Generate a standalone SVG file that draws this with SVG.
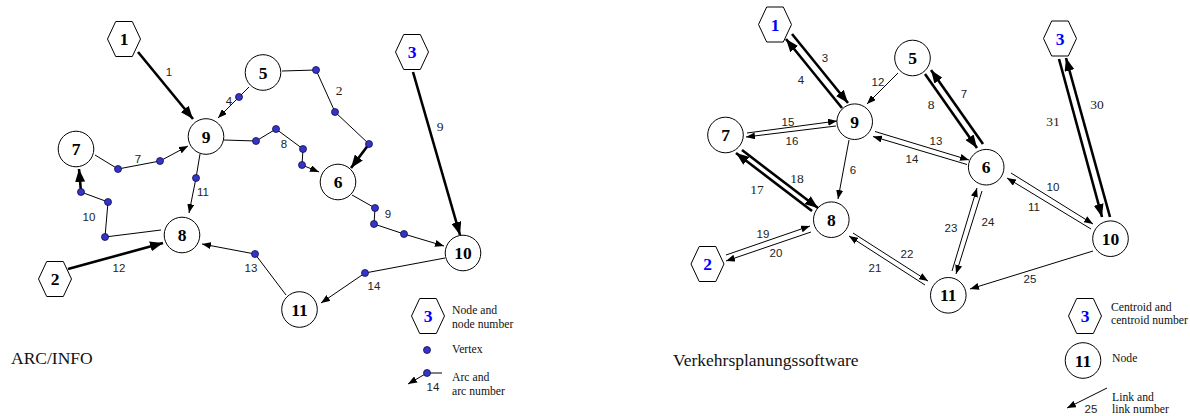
<svg xmlns="http://www.w3.org/2000/svg" width="1190" height="416" viewBox="0 0 1190 416">
<defs>
<style>
.nd{fill:#fff;stroke:#000;stroke-width:1}
.nt{font-family:"Liberation Serif",serif;font-weight:bold;font-size:17.5px;text-anchor:middle;fill:#000}
.bl{fill:#0000ff}
.ln{fill:none;stroke:#000;stroke-width:1}
.tk{fill:none;stroke:#000;stroke-width:2.6}
.lb{font-family:"Liberation Sans",Arial,sans-serif;font-size:11.5px;text-anchor:middle;fill:#222}
.ls{font-family:"Liberation Serif",serif;font-size:13.5px;text-anchor:middle;fill:#222}
.lg{font-family:"Liberation Serif",serif;font-size:11.7px;fill:#111}
.tt{font-family:"Liberation Serif",serif;font-size:17.5px;fill:#111}
.vx{fill:#3434cc;stroke:#101040;stroke-width:0.8}
</style>
<polygon id="hex" points="-16.5,0 -8.3,-17.5 8.3,-17.5 16.5,0 8.3,17.5 -8.3,17.5"/>
<marker id="ah" viewBox="0 0 9 7" refX="9" refY="3.5" markerWidth="9" markerHeight="7" markerUnits="userSpaceOnUse" orient="auto"><path d="M0,0 L9,3.5 L0,7 z" fill="#000"/></marker>
<marker id="ahb" viewBox="0 0 13 10" refX="13" refY="5" markerWidth="13" markerHeight="10" markerUnits="userSpaceOnUse" orient="auto"><path d="M0,0 L13,5 L0,10 z" fill="#000"/></marker>
</defs>
<rect width="1190" height="416" fill="#fff"/>

<!-- ARC/INFO network: arcs with vertices -->
<g id="arcs">
<line class="tk" x1="138" y1="52" x2="193" y2="119" marker-end="url(#ahb)"/>
<polyline class="ln" points="249,87 239,97 218,118" marker-end="url(#ah)"/>
<polyline class="ln" points="282,71 316,70 335,112 369,144"/>
<line class="tk" x1="369" y1="144" x2="351" y2="168" marker-end="url(#ahb)"/>
<polyline class="ln" points="224,140 256,141 276,129 303,149 302,165 319,172" marker-end="url(#ah)"/>
<polyline class="ln" points="95,155 118,169 160,161 188,146" marker-end="url(#ah)"/>
<polyline class="ln" points="200,154 196,178 189,213" marker-end="url(#ah)"/>
<polyline class="ln" points="161,230 105,237 108,202 81,192"/>
<line class="tk" x1="81" y1="192" x2="79" y2="169" marker-end="url(#ahb)"/>
<line class="tk" x1="68" y1="269" x2="163" y2="243" marker-end="url(#ahb)"/>
<polyline class="ln" points="286,295 255,254 202,244" marker-end="url(#ah)"/>
<line class="tk" x1="413" y1="72" x2="460" y2="235" marker-end="url(#ahb)"/>
<polyline class="ln" points="352,195 375,208 374,224 404,234 444,246" marker-end="url(#ah)"/>
<polyline class="ln" points="445,258 365,273 321,303" marker-end="url(#ah)"/>
<polyline class="ln" points="442,373 427,373 408,384" marker-end="url(#ah)"/>

<text class="lb" x="169" y="76">1</text>
<text class="lb" x="229" y="105">4</text>
<text class="ls" x="339" y="94.5">2</text>
<text class="lb" x="284" y="148">8</text>
<text class="lb" x="138" y="163">7</text>
<text class="lb" x="203" y="196">11</text>
<text class="lb" x="89" y="221">10</text>
<text class="lb" x="119" y="272">12</text>
<text class="lb" x="251" y="272">13</text>
<text class="ls" x="440" y="131">9</text>
<text class="lb" x="388" y="218">9</text>
<text class="lb" x="374" y="290">14</text>
<text class="lb" x="433" y="391">14</text>
</g>

<g id="vertices">
<circle class="vx" cx="239" cy="97" r="3.5"/>
<circle class="vx" cx="316" cy="70" r="3.5"/>
<circle class="vx" cx="335" cy="112" r="3.5"/>
<circle class="vx" cx="369" cy="144" r="3.5"/>
<circle class="vx" cx="256" cy="141" r="3.5"/>
<circle class="vx" cx="276" cy="129" r="3.5"/>
<circle class="vx" cx="303" cy="149" r="3.5"/>
<circle class="vx" cx="302" cy="165" r="3.5"/>
<circle class="vx" cx="118" cy="169" r="3.5"/>
<circle class="vx" cx="160" cy="161" r="3.5"/>
<circle class="vx" cx="196" cy="178" r="3.5"/>
<circle class="vx" cx="105" cy="237" r="3.5"/>
<circle class="vx" cx="108" cy="202" r="3.5"/>
<circle class="vx" cx="81" cy="192" r="3.5"/>
<circle class="vx" cx="255" cy="254" r="3.5"/>
<circle class="vx" cx="375" cy="208" r="3.5"/>
<circle class="vx" cx="374" cy="224" r="3.5"/>
<circle class="vx" cx="404" cy="234" r="3.5"/>
<circle class="vx" cx="365" cy="273" r="3.5"/>
<circle class="vx" cx="427" cy="350" r="3.5"/>
<circle class="vx" cx="427" cy="373" r="3.5"/>
</g>

<g id="a-hex-1"><use href="#hex" class="nd" x="124" y="39"/><text class="nt" x="124" y="45">1</text></g>
<g id="a-hex-2"><use href="#hex" class="nd" x="55" y="279"/><text class="nt" x="55" y="285">2</text></g>
<g id="a-hex-3"><use href="#hex" class="nd" x="412" y="52"/><text class="nt bl" x="412" y="58">3</text></g>
<g id="a-node-5"><circle class="nd" cx="263" cy="72.5" r="17.8"/><text class="nt" x="263" y="78.5">5</text></g>
<g id="a-node-9"><circle class="nd" cx="206" cy="136.5" r="17.8"/><text class="nt" x="206" y="142.5">9</text></g>
<g id="a-node-7"><circle class="nd" cx="76" cy="149" r="17.8"/><text class="nt" x="76" y="155">7</text></g>
<g id="a-node-6"><circle class="nd" cx="338" cy="182" r="17.8"/><text class="nt" x="338" y="188">6</text></g>
<g id="a-node-8"><circle class="nd" cx="182" cy="235" r="17.8"/><text class="nt" x="182" y="241">8</text></g>
<g id="a-node-10"><circle class="nd" cx="463" cy="253" r="17.8"/><text class="nt" x="463" y="259">10</text></g>
<g id="a-node-11"><circle class="nd" cx="299.5" cy="309.5" r="17.8"/><text class="nt" x="299.5" y="315.5">11</text></g>

<g id="a-legend">
<use href="#hex" class="nd" x="428" y="316"/><text class="nt bl" x="428" y="322">3</text>
<text class="lg" x="452" y="314">Node and</text>
<text class="lg" x="452" y="328">node number</text>
<text class="lg" x="452" y="352.5">Vertex</text>
<text class="lg" x="452" y="381">Arc and</text>
<text class="lg" x="452" y="394.5">arc number</text>
</g>
<text id="title-arcinfo" class="tt" x="11" y="364">ARC/INFO</text>

<!-- Traffic planning network: directed links -->
<g id="links">
<line class="tk" x1="792" y1="34" x2="848" y2="103" marker-end="url(#ahb)"/>
<line class="tk" x1="842" y1="108" x2="786" y2="39" marker-end="url(#ahb)"/>
<line class="ln" x1="898" y1="73" x2="867" y2="104" marker-end="url(#ah)"/>
<line class="ln" x1="747" y1="133" x2="837" y2="121" marker-end="url(#ah)"/>
<line class="ln" x1="836" y1="126" x2="746" y2="137" marker-end="url(#ah)"/>
<line class="ln" x1="849" y1="140" x2="838" y2="199" marker-end="url(#ah)"/>
<line class="tk" x1="742" y1="150" x2="818" y2="208" marker-end="url(#ahb)"/>
<line class="tk" x1="812" y1="211" x2="736" y2="153" marker-end="url(#ahb)"/>
<line class="ln" x1="726" y1="255" x2="810" y2="226" marker-end="url(#ah)"/>
<line class="ln" x1="811" y1="232" x2="726" y2="261" marker-end="url(#ah)"/>
<line class="ln" x1="853" y1="233" x2="928" y2="281" marker-end="url(#ah)"/>
<line class="ln" x1="925" y1="285" x2="849" y2="236" marker-end="url(#ah)"/>
<line class="ln" x1="875" y1="131.5" x2="969" y2="160" marker-end="url(#ah)"/>
<line class="ln" x1="967" y1="164.5" x2="873" y2="136.5" marker-end="url(#ah)"/>
<line class="tk" x1="925" y1="74" x2="977" y2="148" marker-end="url(#ahb)"/>
<line class="tk" x1="983" y1="144" x2="931" y2="70" marker-end="url(#ahb)"/>
<line class="ln" x1="1011" y1="173" x2="1093" y2="224" marker-end="url(#ah)"/>
<line class="ln" x1="1091" y1="229" x2="1007" y2="178" marker-end="url(#ah)"/>
<line class="tk" x1="1059" y1="59" x2="1102" y2="217" marker-end="url(#ahb)"/>
<line class="tk" x1="1110" y1="217" x2="1066" y2="58" marker-end="url(#ahb)"/>
<line class="ln" x1="952" y1="271" x2="977" y2="188" marker-end="url(#ah)"/>
<line class="ln" x1="982" y1="191" x2="956" y2="274" marker-end="url(#ah)"/>
<line class="ln" x1="1093" y1="251" x2="970" y2="289" marker-end="url(#ah)"/>
<line class="ln" x1="1107" y1="388" x2="1067" y2="408" marker-end="url(#ah)"/>

<text class="lb" x="825" y="62">3</text>
<text class="lb" x="801" y="84">4</text>
<text class="lb" x="878" y="86">12</text>
<text class="lb" x="788" y="126">15</text>
<text class="lb" x="792" y="145">16</text>
<text class="lb" x="853" y="174">6</text>
<text class="ls" x="797" y="182.5">18</text>
<text class="ls" x="757" y="194">17</text>
<text class="lb" x="763" y="238">19</text>
<text class="lb" x="776" y="257">20</text>
<text class="lb" x="907" y="258">22</text>
<text class="lb" x="875" y="272">21</text>
<text class="lb" x="936" y="145">13</text>
<text class="lb" x="912" y="163">14</text>
<text class="ls" x="931" y="108.5">8</text>
<text class="lb" x="964" y="98">7</text>
<text class="lb" x="1053" y="191">10</text>
<text class="lb" x="1034" y="211">11</text>
<text class="ls" x="1053" y="125.5">31</text>
<text class="ls" x="1097" y="109">30</text>
<text class="lb" x="951" y="232">23</text>
<text class="lb" x="988" y="226">24</text>
<text class="lb" x="1030" y="283">25</text>
<text class="lb" x="1091" y="413">25</text>
</g>

<g id="v-hex-1"><use href="#hex" class="nd" x="775" y="24.5"/><text class="nt bl" x="775" y="30.5">1</text></g>
<g id="v-hex-2"><use href="#hex" class="nd" x="707.5" y="264"/><text class="nt bl" x="707.5" y="270">2</text></g>
<g id="v-hex-3"><use href="#hex" class="nd" x="1060" y="38.5"/><text class="nt bl" x="1060" y="44.5">3</text></g>
<g id="v-node-5"><circle class="nd" cx="912.5" cy="58" r="17.8"/><text class="nt" x="912.5" y="64">5</text></g>
<g id="v-node-9"><circle class="nd" cx="854.7" cy="121.7" r="17.8"/><text class="nt" x="854.7" y="127.7">9</text></g>
<g id="v-node-7"><circle class="nd" cx="725.5" cy="135" r="17.8"/><text class="nt" x="725.5" y="141">7</text></g>
<g id="v-node-8"><circle class="nd" cx="831.3" cy="219.7" r="17.8"/><text class="nt" x="831.3" y="225.7">8</text></g>
<g id="v-node-6"><circle class="nd" cx="986.2" cy="167.2" r="17.8"/><text class="nt" x="986.2" y="173.2">6</text></g>
<g id="v-node-10"><circle class="nd" cx="1110.5" cy="238.7" r="17.8"/><text class="nt" x="1110.5" y="244.7">10</text></g>
<g id="v-node-11"><circle class="nd" cx="948.3" cy="295.3" r="17.8"/><text class="nt" x="948.3" y="301.3">11</text></g>

<g id="v-legend">
<use href="#hex" class="nd" x="1085" y="316"/><text class="nt bl" x="1085" y="322">3</text>
<text class="lg" x="1111" y="310.5">Centroid and</text>
<text class="lg" x="1111" y="324">centroid number</text>
<circle class="nd" cx="1083" cy="360.5" r="17.8"/><text class="nt" x="1083" y="366.5">11</text>
<text class="lg" x="1112" y="361.5">Node</text>
<text class="lg" x="1112" y="400.5">Link and</text>
<text class="lg" x="1112" y="413">link number</text>
</g>
<text id="title-vp" class="tt" x="673" y="365.5">Verkehrsplanungssoftware</text>
</svg>
